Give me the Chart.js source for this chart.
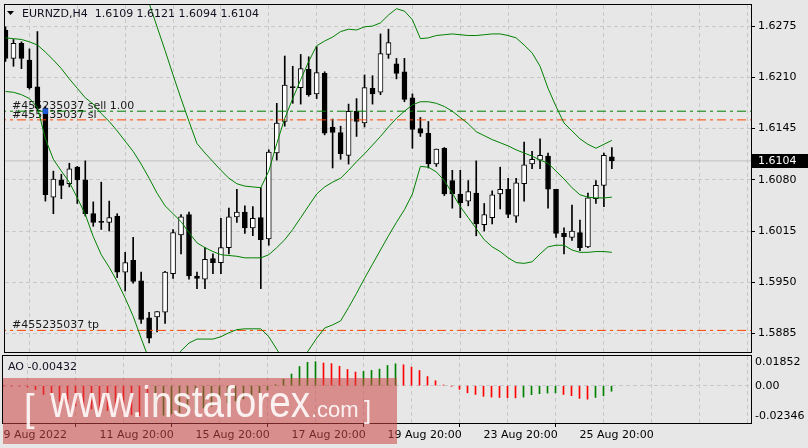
<!DOCTYPE html>
<html>
<head>
<meta charset="utf-8">
<title>EURNZD,H4</title>
<script src="https://cdn.jsdelivr.net/npm/chart.js@4.4.0/dist/chart.umd.min.js"></script>
<style>
    html, body { margin: 0; padding: 0; background: #e7e7e7; }
    #wrap { position: relative; width: 808px; height: 448px; overflow: hidden; }
    #price-box { position: absolute; left: 0; top: 0; width: 808px; height: 353px; }
    #ao-box { position: absolute; left: 0; top: 353px; width: 808px; height: 95px; }
</style>
</head>
<body>
<div id="wrap">
    <div id="price-box"><canvas id="price-chart"></canvas></div>
    <div id="ao-box"><canvas id="ao-chart"></canvas></div>
</div>
<script>
// EURNZD H4 candles, 9 Aug 20:00 .. 26 Aug 12:00
const opens = [1.6270, 1.6234, 1.6253, 1.6232, 1.6198, 1.6171, 1.6058, 1.6080, 1.6075, 1.6096,
    1.6080, 1.6037, 1.6027, 1.6026, 1.6034, 1.5963, 1.5978, 1.5952, 1.5905, 1.5906,
    1.5912, 1.5961, 1.6010, 1.6036, 1.5958, 1.5954, 1.5980, 1.5975, 1.5994, 1.6033,
    1.6039, 1.6019, 1.6032, 1.6005, 1.6114, 1.6154, 1.6198, 1.6197, 1.6220, 1.6189,
    1.6215, 1.6147, 1.6140, 1.6111, 1.6167, 1.6152, 1.6196, 1.6191, 1.6239, 1.6227,
    1.6217, 1.6184, 1.6145, 1.6139, 1.6100, 1.6120, 1.6079, 1.6062, 1.6053, 1.6063,
    1.6023, 1.6032, 1.6062, 1.6068, 1.6034, 1.6075, 1.6100, 1.6105, 1.6110, 1.6068,
    1.6012, 1.6007, 1.6013, 1.5995, 1.6056, 1.6073, 1.6109];
const highs = [1.6274, 1.6258, 1.6255, 1.6246, 1.6268, 1.6173, 1.6091, 1.6087, 1.6101, 1.6097,
    1.6104, 1.6052, 1.6077, 1.6053, 1.6037, 1.5988, 1.6007, 1.5963, 1.5912, 1.5913,
    1.5964, 1.6017, 1.6036, 1.6039, 1.5963, 1.5994, 1.5986, 1.6031, 1.6044, 1.6068,
    1.6047, 1.6046, 1.6070, 1.6118, 1.6177, 1.6237, 1.6224, 1.6239, 1.6236, 1.6249,
    1.6217, 1.6157, 1.6148, 1.6176, 1.6183, 1.6213, 1.6212, 1.6265, 1.6271, 1.6234,
    1.6234, 1.6189, 1.6159, 1.6154, 1.6119, 1.6121, 1.6092, 1.6092, 1.6079, 1.6104,
    1.6050, 1.6066, 1.6096, 1.6082, 1.6082, 1.6128, 1.6116, 1.6132, 1.6114, 1.6068,
    1.6019, 1.6048, 1.6029, 1.6063, 1.6079, 1.6114, 1.6121];
const lows = [1.6230, 1.6224, 1.6221, 1.6195, 1.6168, 1.6053, 1.6037, 1.6056, 1.6071, 1.6050,
    1.6034, 1.6021, 1.6017, 1.6015, 1.5956, 1.5939, 1.5949, 1.5898, 1.5873, 1.5887,
    1.5898, 1.5955, 1.5986, 1.5954, 1.5942, 1.5942, 1.5961, 1.5961, 1.5986, 1.6026,
    1.6012, 1.6009, 1.5942, 1.5997, 1.6105, 1.6148, 1.6177, 1.6176, 1.6186, 1.6183,
    1.6137, 1.6095, 1.6106, 1.6100, 1.6135, 1.6147, 1.6176, 1.6188, 1.6234, 1.6208,
    1.6179, 1.6120, 1.6135, 1.6095, 1.6097, 1.6060, 1.6044, 1.6032, 1.6047, 1.6009,
    1.6015, 1.6024, 1.6043, 1.6032, 1.6026, 1.6053, 1.6094, 1.6094, 1.6044, 1.6007,
    1.5986, 1.6003, 1.5990, 1.5994, 1.6050, 1.6046, 1.6094];
const closes = [1.6234, 1.6253, 1.6234, 1.6197, 1.6171, 1.6061, 1.6081, 1.6073, 1.6094, 1.6080,
    1.6037, 1.6026, 1.6026, 1.6032, 1.5963, 1.5975, 1.5951, 1.5903, 1.5879, 1.5913,
    1.5963, 1.6013, 1.6033, 1.5958, 1.5955, 1.5979, 1.5975, 1.5994, 1.6033, 1.6039,
    1.6019, 1.6031, 1.6004, 1.6115, 1.6152, 1.6200, 1.6197, 1.6221, 1.6188, 1.6216,
    1.6139, 1.6140, 1.6113, 1.6167, 1.6154, 1.6197, 1.6189, 1.6240, 1.6254, 1.6215,
    1.6182, 1.6144, 1.6139, 1.6100, 1.6119, 1.6062, 1.6062, 1.6051, 1.6065, 1.6024,
    1.6036, 1.6061, 1.6068, 1.6036, 1.6076, 1.6099, 1.6106, 1.6111, 1.6068, 1.6012,
    1.6008, 1.6015, 1.5994, 1.6057, 1.6073, 1.6111, 1.6104];

// Bollinger bands
const upperBand = [1.6330, 1.6329, 1.6329, 1.6330, 1.6333, 1.6355, 1.6360, 1.6358, 1.6355, 1.6352,
    1.6350, 1.6352, 1.6350, 1.6348, 1.6345, 1.6342, 1.6338, 1.6334, 1.6304, 1.6274,
    1.6244, 1.6213, 1.6183, 1.6154, 1.6126, 1.6114, 1.6103, 1.6092, 1.6082, 1.6075,
    1.6072, 1.6071, 1.6070, 1.6091, 1.6126, 1.6158, 1.6183, 1.6207, 1.6230, 1.6250,
    1.6256, 1.6261, 1.6268, 1.6271, 1.6270, 1.6274, 1.6275, 1.6279, 1.6289, 1.6297,
    1.6294, 1.6283, 1.6259, 1.6260, 1.6263, 1.6264, 1.6265, 1.6264, 1.6263, 1.6263,
    1.6264, 1.6265, 1.6265, 1.6263, 1.6260, 1.6251, 1.6241, 1.6224, 1.6196, 1.6173,
    1.6152, 1.6142, 1.6132, 1.6125, 1.6120, 1.6125, 1.6130];
const middleBand = [1.6260, 1.6259, 1.6258, 1.6255, 1.6251, 1.6242, 1.6232, 1.6221, 1.6208, 1.6196,
    1.6184, 1.6176, 1.6164, 1.6154, 1.6142, 1.6129, 1.6116, 1.6100, 1.6082, 1.6063,
    1.6047, 1.6037, 1.6027, 1.6013, 1.6000, 1.5994, 1.5989, 1.5985, 1.5984, 1.5983,
    1.5981, 1.5981, 1.5981, 1.5985, 1.5994, 1.6004, 1.6017, 1.6032, 1.6047, 1.6062,
    1.6071, 1.6077, 1.6082, 1.6092, 1.6103, 1.6113, 1.6124, 1.6135, 1.6147, 1.6158,
    1.6167, 1.6175, 1.6179, 1.6179, 1.6177, 1.6173, 1.6167, 1.6159, 1.6151, 1.6141,
    1.6136, 1.6131, 1.6127, 1.6123, 1.6118, 1.6114, 1.6110, 1.6105, 1.6101, 1.6091,
    1.6081, 1.6070, 1.6061, 1.6058, 1.6057, 1.6057, 1.6058];
const lowerBand = [1.6192, 1.6191, 1.6188, 1.6183, 1.6172, 1.6132, 1.6106, 1.6091, 1.6077, 1.6057,
    1.6036, 1.6008, 1.5985, 1.5969, 1.5951, 1.5930, 1.5907, 1.5879, 1.5852, 1.5836,
    1.5836, 1.5849, 1.5863, 1.5873, 1.5878, 1.5878, 1.5878, 1.5881, 1.5886, 1.5890,
    1.5891, 1.5891, 1.5891, 1.5881, 1.5865, 1.5849, 1.5841, 1.5849, 1.5864, 1.5879,
    1.5892, 1.5896, 1.5901, 1.5918, 1.5936, 1.5955, 1.5973, 1.5991, 1.6009, 1.6026,
    1.6042, 1.6062, 1.6097, 1.6096, 1.6090, 1.6079, 1.6063, 1.6046, 1.6032, 1.6018,
    1.6004, 1.5995, 1.5989, 1.5981, 1.5975, 1.5974, 1.5976, 1.5986, 1.5995, 1.5997,
    1.5997, 1.5991, 1.5988, 1.5988, 1.5989, 1.5989, 1.5988];

// Awesome Oscillator
const aoValues = [-0.0002, -0.0003, -0.0003, -0.0010, -0.0030, -0.0068, -0.0095, -0.0120, -0.0142, -0.0156,
    -0.0168, -0.0180, -0.0187, -0.0192, -0.0205, -0.0217, -0.0225, -0.0232, -0.02346, -0.0233,
    -0.0228, -0.0218, -0.0208, -0.0196, -0.0186, -0.0172, -0.0160, -0.0148, -0.0132, -0.0118,
    -0.0102, -0.0080, -0.0058, -0.0035, 0.0008, 0.0050, 0.0090, 0.0148, 0.0180, 0.01852,
    0.0175, 0.0170, 0.0150, 0.0125, 0.0105, 0.0110, 0.0118, 0.0128, 0.0156, 0.0169,
    0.0161, 0.0143, 0.0117, 0.0070, 0.0038, 0.0005, -0.0005, -0.0028, -0.0055, -0.0068,
    -0.0082, -0.0088, -0.0091, -0.0093, -0.0094, -0.0088, -0.0070, -0.0062, -0.0057, -0.0055,
    -0.0068, -0.0077, -0.0098, -0.0104, -0.0091, -0.0078, -0.00432];

const priceTicks = [1.6275, 1.6210, 1.6145, 1.6080, 1.6015, 1.5950, 1.5885];
const aoTicks = [0.01852, 0, -0.02346];
const timeTickBars = [0, 12, 24, 36, 48, 60, 72];
const timeLabels = ['9 Aug 2022', '11 Aug 20:00', '15 Aug 20:00', '17 Aug 20:00', '19 Aug 20:00', '23 Aug 20:00', '25 Aug 20:00'];

const symbolTitle = 'EURNZD,H4';
const orderId = '#455235037';
const orderLots = 1.00;
const sellPrice = 1.6167;
const slPrice = 1.6156;
const tpPrice = 1.5889;
const sellBar = 5;

const lastIdx = closes.length - 1;
const lastPrice = closes[lastIdx];

// view window (bars), 8px per bar
const xMin = -0.0625;
const xMax = 93.4375;
const gridBars = [];
for (let b = 0; b <= 90; b += 6) gridBars.push(b);

Chart.defaults.font.family = '"DejaVu Sans", sans-serif';
Chart.defaults.font.size = 11;
Chart.defaults.color = '#000';
Chart.defaults.animation = false;

const GRID = '#c8c8c8';
const BAND = '#008000';
const ORANGE = '#ff4500';
const DASHDOT = [9, 4, 3, 4];

function levelLine(price) {
    return [{ x: xMin - 1, y: price }, { x: xMax + 1, y: price }];
}

// keeps a chart's plot bottom on a given line, whatever the axes reserve
function pinBottom(chart, boxId, baseHeight, wanted) {
    const lost = wanted - chart.chartArea.bottom;
    if (lost !== 0) {
        document.getElementById(boxId).style.height = (baseHeight + lost) + 'px';
        chart.resize();
    }
}

const wicks = lows.map((l, i) => ({ x: i, y: [l, highs[i]] }));
const bodies = opens.map((o, i) => ({ x: i, y: [o, closes[i]] }));
const bodyColors = opens.map((o, i) => closes[i] > o ? '#ffffff' : '#000000');

const pricePlugin = {
    id: 'mtPrice',
    beforeDatasetsDraw(chart) {
        const { ctx, scales: { y } } = chart;
        ctx.save();
        ctx.font = '11px "DejaVu Sans"';
        ctx.fillStyle = '#1a1a1a';
        ctx.textBaseline = 'alphabetic';
        ctx.fillText(orderId + ' sell ' + orderLots.toFixed(2), 12, y.getPixelForValue(sellPrice) - 2);
        ctx.fillText(orderId + ' sl', 12, y.getPixelForValue(slPrice) - 2);
        ctx.fillText(orderId + ' tp', 12, y.getPixelForValue(tpPrice) - 2);
        ctx.restore();
    },
    afterDraw(chart) {
        const { ctx, chartArea: a, scales: { y } } = chart;
        ctx.save();
        ctx.strokeStyle = '#000';
        ctx.lineWidth = 1;
        ctx.strokeRect(a.left - 0.5, a.top - 0.5, a.right - a.left + 1, a.bottom - a.top + 1);

        // header
        ctx.fillStyle = '#000';
        ctx.beginPath();
        ctx.moveTo(7, 11);
        ctx.lineTo(14, 11);
        ctx.lineTo(10.5, 15);
        ctx.closePath();
        ctx.fill();
        ctx.font = '11px "DejaVu Sans"';
        ctx.fillStyle = '#101020';
        const ohlc = [opens[lastIdx], highs[lastIdx], lows[lastIdx], closes[lastIdx]].map(v => v.toFixed(4)).join(' ');
        ctx.fillText(symbolTitle + '  ' + ohlc, 22, 16.5);

        // last price tag
        const py = Math.round(y.getPixelForValue(lastPrice));
        ctx.fillStyle = '#000';
        ctx.fillRect(a.right + 1, py - 7, 57, 14);
        ctx.fillStyle = '#fff';
        ctx.textBaseline = 'middle';
        ctx.fillText(lastPrice.toFixed(4), 758, py + 0.5);
        ctx.restore();
    }
};

const priceCtx = document.getElementById('price-chart').getContext('2d');
const priceChart = new Chart(priceCtx, {
    type: 'bar',
    data: {
        datasets: [
            {
                type: 'line', label: 'sell marker', data: [{ x: sellBar, y: sellPrice }],
                showLine: false, pointStyle: 'rect', pointRadius: 3.2,
                pointBackgroundColor: '#1f5ad6', pointBorderColor: '#1f5ad6', order: 0
            },
            { type: 'line', label: 'upper', data: upperBand.map((v, i) => ({ x: i, y: v })), borderColor: BAND, borderWidth: 1, pointRadius: 0, order: 1 },
            { type: 'line', label: 'middle', data: middleBand.map((v, i) => ({ x: i, y: v })), borderColor: BAND, borderWidth: 1, pointRadius: 0, order: 1 },
            { type: 'line', label: 'lower', data: lowerBand.map((v, i) => ({ x: i, y: v })), borderColor: BAND, borderWidth: 1, pointRadius: 0, order: 1 },
            { type: 'line', label: 'sell', data: levelLine(sellPrice), borderColor: '#008000', borderWidth: 1, borderDash: DASHDOT, pointRadius: 0, order: 2 },
            { type: 'line', label: 'sl', data: levelLine(slPrice), borderColor: ORANGE, borderWidth: 1, borderDash: DASHDOT, pointRadius: 0, order: 2 },
            { type: 'line', label: 'tp', data: levelLine(tpPrice), borderColor: ORANGE, borderWidth: 1, borderDash: DASHDOT, pointRadius: 0, order: 2 },
            {
                label: 'bodies', data: bodies, barThickness: 5, minBarLength: 1, grouped: false,
                backgroundColor: bodyColors, borderColor: '#000', borderWidth: 1, borderSkipped: false, order: 3
            },
            {
                label: 'wicks', data: wicks, barThickness: 1, grouped: false,
                backgroundColor: '#000', borderWidth: 0, order: 4
            },
            { type: 'line', label: 'bid', data: levelLine(lastPrice), borderColor: '#c0c0c0', borderWidth: 1, pointRadius: 0, order: 5 }
        ]
    },
    options: {
        responsive: true,
        maintainAspectRatio: false,
        events: [],
        layout: { padding: { left: 3, top: 3, right: 0, bottom: 1 } },
        scales: {
            x: {
                type: 'linear',
                min: xMin,
                max: xMax,
                offset: false,
                afterBuildTicks: s => { s.ticks = gridBars.map(v => ({ value: v })); },
                afterFit: s => { s.height = 0; s.paddingLeft = 0; s.paddingRight = 0; },
                ticks: { display: false },
                grid: { color: GRID, drawTicks: false },
                border: { display: false, dash: [4, 3] }
            },
            y: {
                position: 'right',
                min: 1.58616,
                max: 1.63017,
                afterBuildTicks: s => { s.ticks = priceTicks.map(v => ({ value: v })); },
                afterFit: s => { s.width = 57; s.paddingTop = 0; s.paddingBottom = 0; },
                ticks: { padding: 3, callback: v => v.toFixed(4) },
                grid: { color: GRID, tickColor: '#000', tickLength: 4, tickBorderDash: [1, 0] },
                border: { display: false, dash: [4, 3] }
            }
        },
        plugins: {
            legend: { display: false },
            tooltip: { enabled: false }
        }
    },
    plugins: [pricePlugin]
});
pinBottom(priceChart, 'price-box', 353, 352);

const aoColors = aoValues.map((v, i) => (i > 0 && v > aoValues[i - 1]) ? '#008000' : '#ff0000');

const aoPlugin = {
    id: 'mtAo',
    afterDraw(chart) {
        const { ctx, chartArea: a } = chart;
        ctx.save();
        ctx.strokeStyle = '#000';
        ctx.lineWidth = 1;
        ctx.strokeRect(a.left - 0.5, a.top - 0.5, a.right - a.left + 1, a.bottom - a.top + 1);
        ctx.font = '11px "DejaVu Sans"';
        ctx.fillStyle = '#101020';
        ctx.fillText('AO ' + aoValues[lastIdx].toFixed(5), 8, a.top + 14);

        // watermark
        ctx.fillStyle = 'rgba(205, 70, 70, 0.55)';
        ctx.fillRect(3, 25, 394, 66);
        ctx.fillStyle = 'rgba(255, 255, 255, 0.88)';
        ctx.textBaseline = 'alphabetic';
        ctx.font = '38px "Liberation Sans"';
        ctx.fillText('[', 24, 68);
        ctx.save();
        ctx.font = '44px "Liberation Sans"';
        const w = ctx.measureText('www.instaforex').width;
        ctx.translate(50, 64);
        ctx.scale(260 / w, 1);
        ctx.fillText('www.instaforex', 0, 0);
        ctx.restore();
        ctx.font = '22px "Liberation Sans"';
        ctx.fillText('.com', 311, 64);
        ctx.font = '26px "Liberation Sans"';
        ctx.fillText(']', 364, 66);
        ctx.restore();
    }
};

const aoCtx = document.getElementById('ao-chart').getContext('2d');
const aoChart = new Chart(aoCtx, {
    type: 'bar',
    data: {
        datasets: [{
            label: 'AO',
            data: aoValues.map((v, i) => ({ x: i, y: v })),
            backgroundColor: aoColors,
            borderWidth: 0,
            barThickness: 1,
            grouped: false
        }]
    },
    options: {
        responsive: true,
        maintainAspectRatio: false,
        events: [],
        layout: { padding: { left: 3, top: 3, right: 0, bottom: 0 } },
        scales: {
            x: {
                type: 'linear',
                min: xMin,
                max: xMax,
                offset: false,
                afterBuildTicks: s => { s.ticks = gridBars.map(v => ({ value: v })); },
                afterFit: s => { s.height = 25; s.paddingLeft = 0; s.paddingRight = 0; },
                ticks: {
                    align: 'start',
                    padding: 2,
                    autoSkip: false,
                    maxRotation: 0,
                    minRotation: 0,
                    callback: v => {
                        const k = timeTickBars.indexOf(v);
                        return k >= 0 ? timeLabels[k] : '';
                    }
                },
                grid: {
                    color: GRID,
                    tickLength: 4,
                    tickBorderDash: [1, 0],
                    tickColor: c => (c.tick && timeTickBars.indexOf(c.tick.value) > 0) ? '#000' : 'rgba(0,0,0,0)'
                },
                border: { display: false, dash: [4, 3] }
            },
            y: {
                position: 'right',
                min: -0.0288,
                max: 0.0229,
                afterBuildTicks: s => { s.ticks = aoTicks.map(v => ({ value: v })); },
                afterFit: s => { s.width = 57; s.paddingTop = 0; s.paddingBottom = 0; },
                ticks: { padding: 1, callback: v => v === 0 ? '0.00' : v.toFixed(5) },
                grid: {
                    color: c => (c.tick && c.tick.value === 0) ? GRID : 'rgba(0,0,0,0)',
                    tickLength: 3,
                    tickColor: 'rgba(0,0,0,0)'
                },
                border: { display: false, dash: [4, 3] }
            }
        },
        plugins: {
            legend: { display: false },
            tooltip: { enabled: false }
        }
    },
    plugins: [aoPlugin]
});
pinBottom(aoChart, 'ao-box', 95, 70);
</script>
</body>
</html>
